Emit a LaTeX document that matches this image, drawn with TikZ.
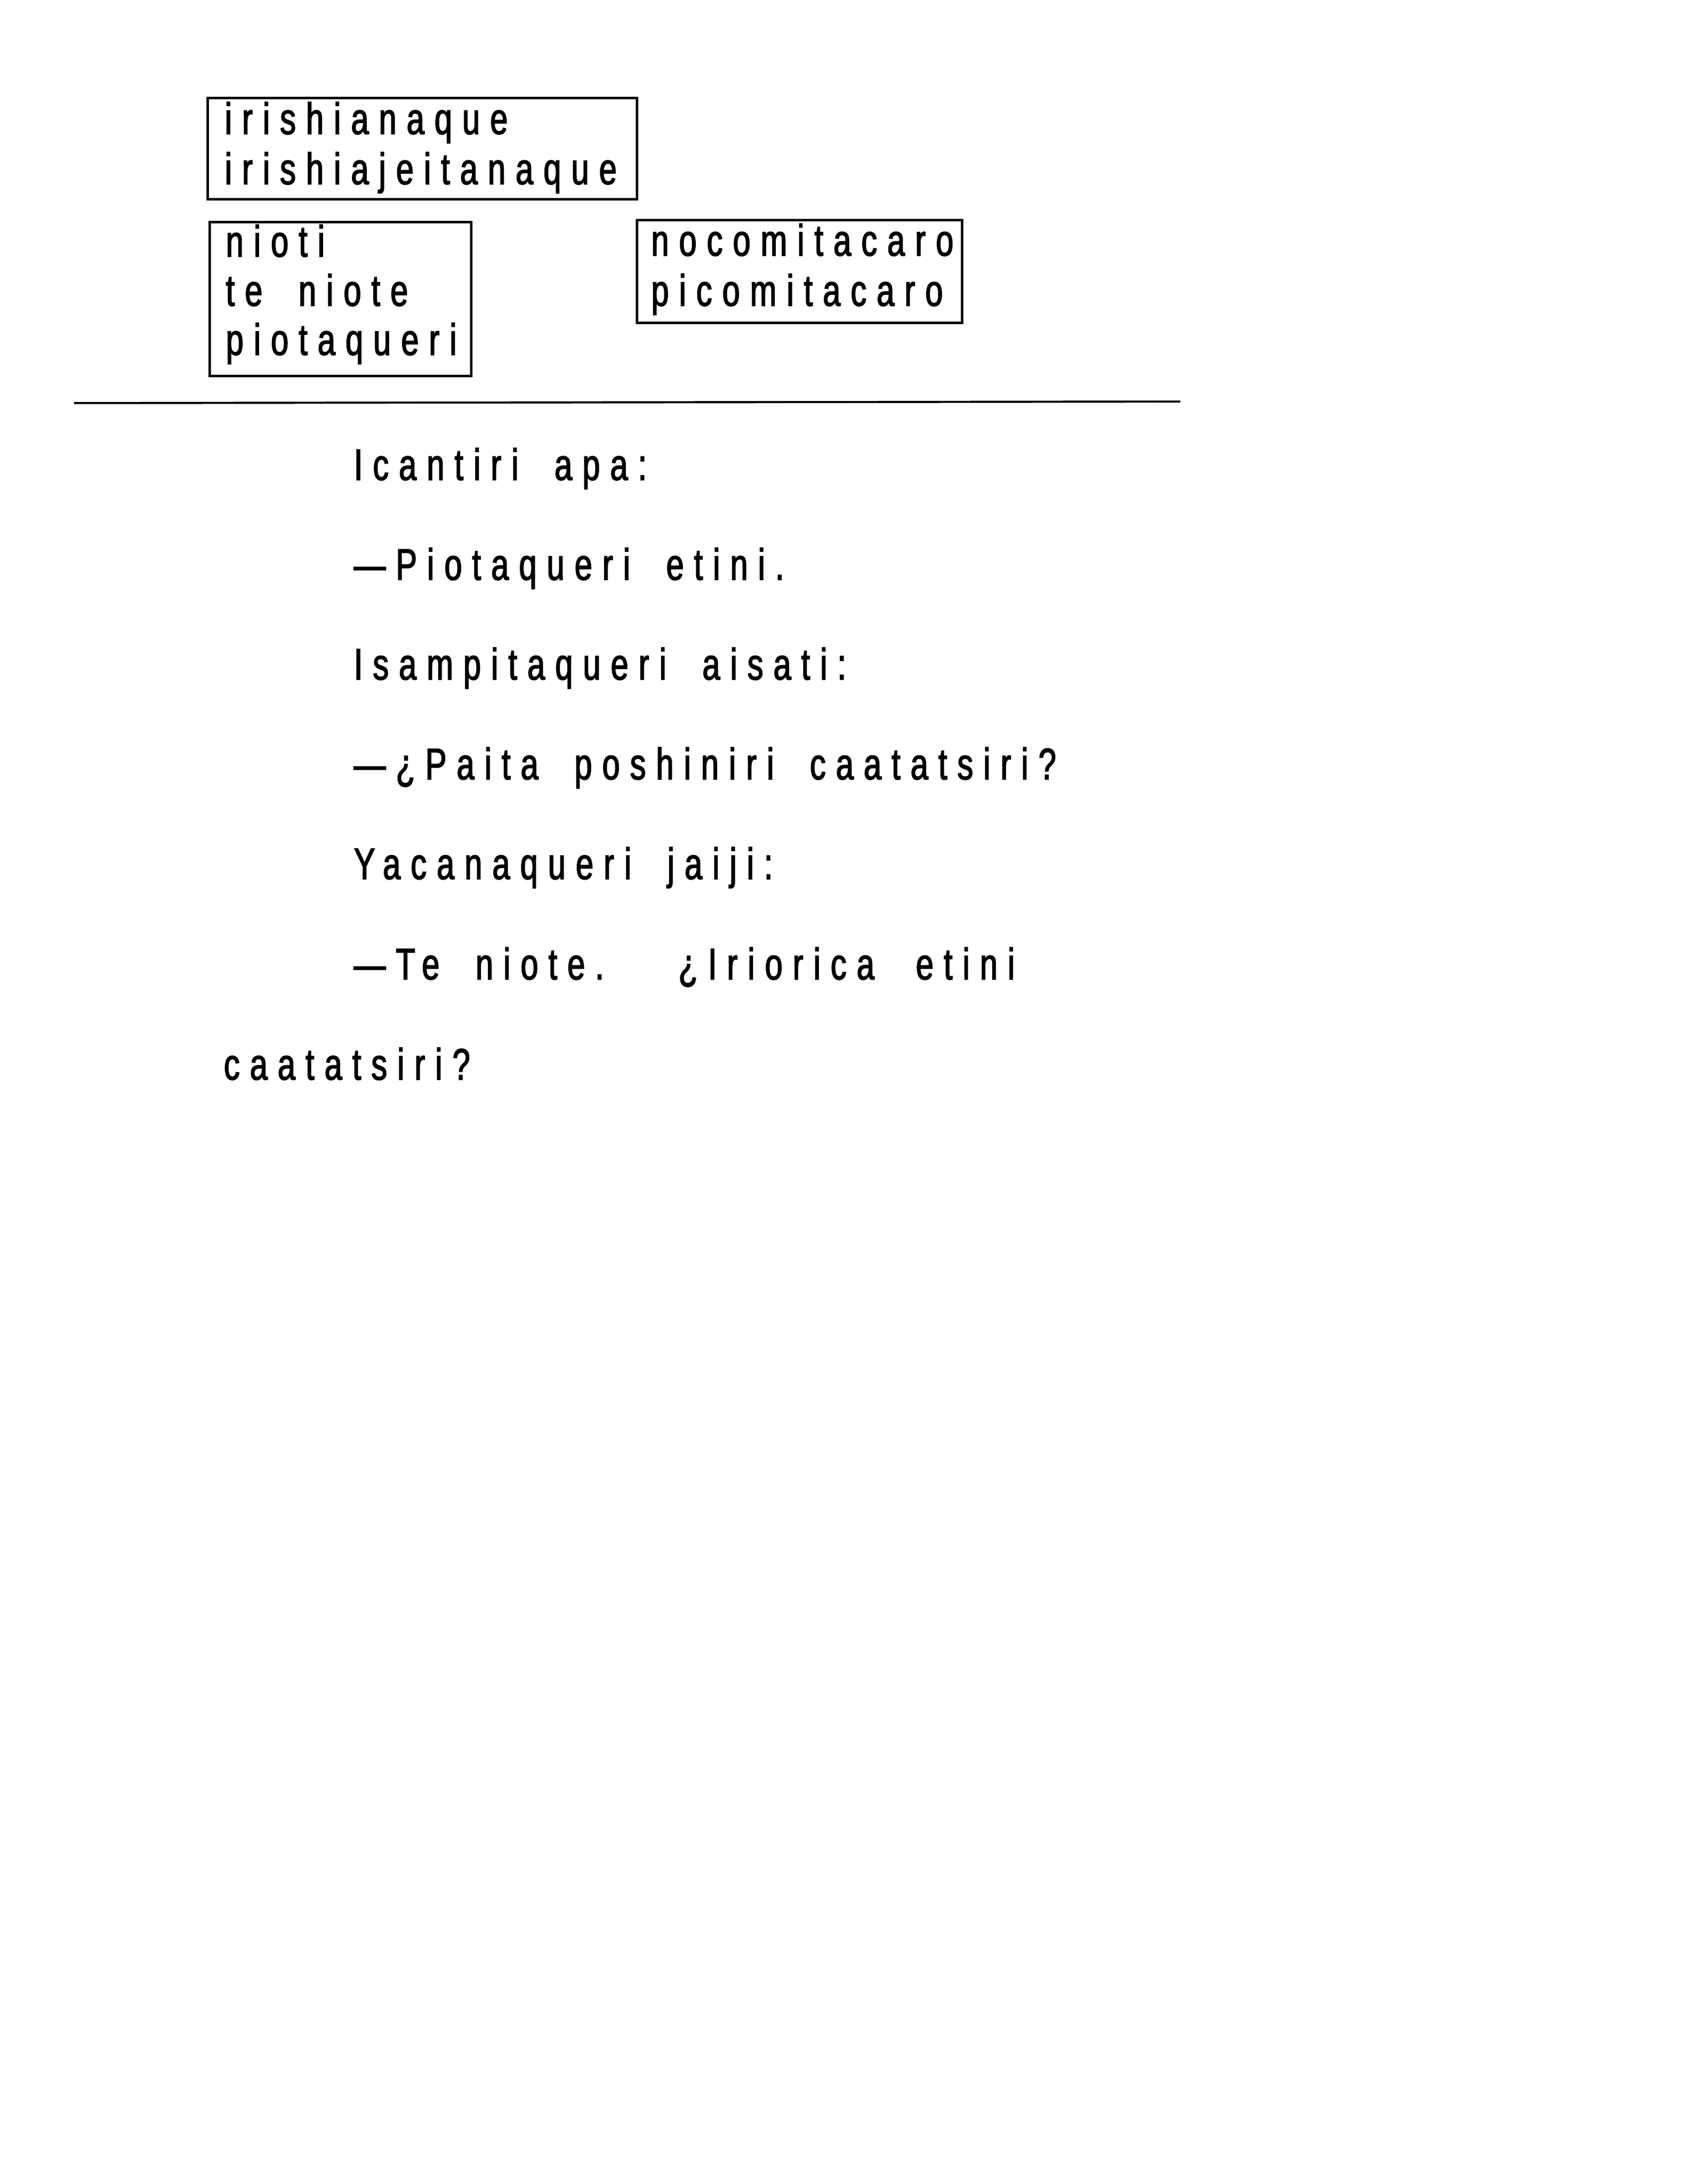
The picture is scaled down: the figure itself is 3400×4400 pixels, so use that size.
\documentclass[tikz,border=0pt]{standalone}
\usepackage{fontspec}
\newfontfamily\tw{Liberation Sans}[FakeStretch=0.72, LetterSpace=23, WordSpace=1.9, FakeBold=2]
\tikzset{
  txt/.style={anchor=base west, inner sep=0pt, font=\tw\fontsize{16}{18}\selectfont},
  boxline/.style={line width=0.9pt},
  rule/.style={line width=0.75pt}
}
\begin{document}
\begin{tikzpicture}[x=0.18pt,y=-0.18pt]
\useasboundingbox (0,0) rectangle (3400,4400);
\fill[white] (0,0) rectangle (3400,4400);
% boxes
\draw[boxline] (418,197) rectangle (1283,401);
\draw[boxline] (422,447) rectangle (949,757);
\draw[boxline] (1283,443) rectangle (1938,650);
% box texts
\node[txt] (b1a) at (452,270) {irishianaque};
\node[txt] (b1b) at (452,371) {irishiajeitanaque};
\node[txt] (b2a) at (454,517) {nioti};
\node[txt] (b2b) at (454,616) {te niote};
\node[txt] (b2c) at (454,715) {piotaqueri};
\node[txt] (b3a) at (1311,515) {nocomitacaro};
\node[txt] (b3b) at (1311,616) {picomitacaro};
% rule
\draw[rule] (149,812) -- (2378,809);
% dialogue
\node[txt] (l1) at (712,967) {Icantiri apa:};
\node[txt] (l2) at (712,1168) {—Piotaqueri etini.};
\node[txt] (l3) at (712,1369) {Isampitaqueri aisati:};
\node[txt] (l4) at (712,1570) {—¿Paita poshiniri caatatsiri?};
\node[txt] (l5) at (712,1771) {Yacanaqueri jaiji:};
\node[txt] (l6) at (712,1973) {—Te niote.\hspace{27pt}¿Iriorica\hspace{2pt} etini};
\node[txt] (l7) at (450,2175) {caatatsiri?};
\end{tikzpicture}
\end{document}
